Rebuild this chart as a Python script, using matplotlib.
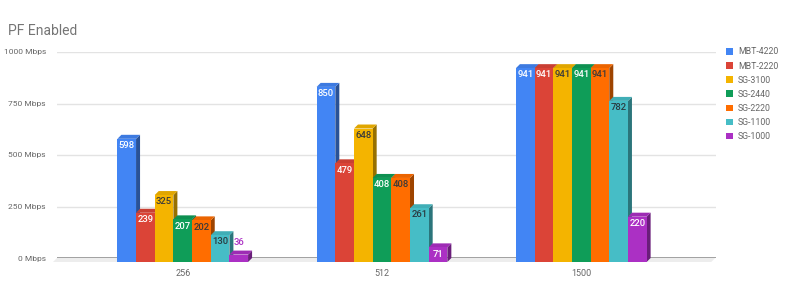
import matplotlib
matplotlib.use("Agg")
import matplotlib.pyplot as plt
from matplotlib.patches import Polygon
import matplotlib.colors as mcolors
import numpy as np

plt.rcParams['font.family'] = ['Roboto', 'DejaVu Sans']

categories = ["256", "512", "1500"]
series = ["MBT-4220", "MBT-2220", "SG-3100", "SG-2440", "SG-2220", "SG-1100", "SG-1000"]
values = {
    "MBT-4220": [598, 850, 941],
    "MBT-2220": [239, 479, 941],
    "SG-3100": [325, 648, 941],
    "SG-2440": [207, 408, 941],
    "SG-2220": [202, 408, 941],
    "SG-1100": [130, 261, 782],
    "SG-1000": [36, 71, 220],
}
colors = ["#4285F4", "#DB4437", "#F4B400", "#0F9D58", "#FF6D00", "#46BDC6", "#AB30C4"]
label_colors = ["white", "white", "#3a3a3a", "white", "#3a3a3a", "#2a3a40", "white"]
yticks = [0, 250, 500, 750, 1000]
ytick_labels = ["0 Mbps", "250 Mbps", "500 Mbps", "750 Mbps", "1000 Mbps"]

W, H = 800, 288
fig = plt.figure(figsize=(W / 100, H / 100), dpi=100)
ax_l, ax_r, ax_b, ax_t = 57, 716, 30, 236
ax = fig.add_axes([ax_l / W, ax_b / H, (ax_r - ax_l) / W, (ax_t - ax_b) / H])

xlim = (-0.651, 2.656)
ylim = (0, 1000)
ax.set_xlim(*xlim)
ax.set_ylim(*ylim)
px_x = (xlim[1] - xlim[0]) / (ax_r - ax_l)
px_y = (ylim[1] - ylim[0]) / (ax_t - ax_b)
depth = 4
ddx = depth * px_x
ddy = depth * px_y

for s in ax.spines.values():
    s.set_visible(False)
ax.set_yticks(yticks)
ax.set_yticklabels(ytick_labels, fontsize=6, color="#666666")
ax.tick_params(axis="both", length=0)
ax.tick_params(axis="y", pad=8)
ax.grid(axis="y", color="#e3e3e3", linewidth=1)
ax.set_axisbelow(True)

x = np.arange(len(categories))
n = len(series)
w = 18.67 * px_x

# floor
floor = Polygon([(xlim[0] - ddx, -ddy), (xlim[0], 0), (xlim[1] - ddx * 0.2, 0), (xlim[1] - ddx * 1.2, -ddy)],
                closed=True, facecolor="#ededed", edgecolor="none", clip_on=False, zorder=1)
ax.add_patch(floor)
ax.axhline(0, color="#8a8a8a", linewidth=1.1, zorder=2)

handles = []
for j, name in enumerate(series):
    base = np.array(mcolors.to_rgb(colors[j]))
    side_c = base * 0.62
    top_c = np.clip(base * 0.92, 0, 1)
    offs = (j - (n - 1) / 2) * w
    for i, v in enumerate(values[name]):
        xl = x[i] + offs - w / 2 - ddx
        xr = xl + w
        z = 3 + j * 0.1
        side = Polygon([(xr, -ddy), (xr + ddx, 0), (xr + ddx, v), (xr, v - ddy)],
                       closed=True, facecolor=side_c, edgecolor="none", clip_on=False, zorder=z)
        top = Polygon([(xl, v - ddy), (xl + ddx, v), (xr + ddx, v), (xr, v - ddy)],
                      closed=True, facecolor=top_c, edgecolor="none", clip_on=False, zorder=z)
        ax.add_patch(side)
        ax.add_patch(top)
    fronts = ax.bar(x + offs - ddx, values[name], width=w, bottom=-ddy, color=colors[j],
                    clip_on=False, zorder=3 + j * 0.1 + 0.05, label=name)
    handles.append(fronts)
    for i, v in enumerate(values[name]):
        cx = x[i] + offs - ddx
        top_y = v - ddy
        if v / px_y > 12:
            ax.text(cx, top_y - 6.7 * px_y, str(v), ha="center", va="center", fontsize=6.8,
                    color=label_colors[j], fontweight="medium", zorder=10)
        else:
            ax.text(cx, top_y + 11.6 * px_y, str(v), ha="center", va="center", fontsize=6.8,
                    color=colors[j], fontweight="medium", zorder=10)

ax.set_xticks(x - ddx)
ax.set_xticklabels(categories, fontsize=6.5, color="#666666")
ax.tick_params(axis="x", pad=8)

fig.text(8 / W, 1 - 31 / H, "PF Enabled", fontsize=10, color="#757575", ha="left", va="center")

leg = fig.legend(handles=handles, labels=series, loc="upper left",
                 bbox_to_anchor=(726 / W, 1 - 47.5 / H), frameon=False, fontsize=6.3,
                 handlelength=0.75, handleheight=0.75, handletextpad=0.6, labelspacing=0.58,
                 borderaxespad=0, borderpad=0)
for t in leg.get_texts():
    t.set_color("#666666")

fig.savefig("out.png", dpi=100)
